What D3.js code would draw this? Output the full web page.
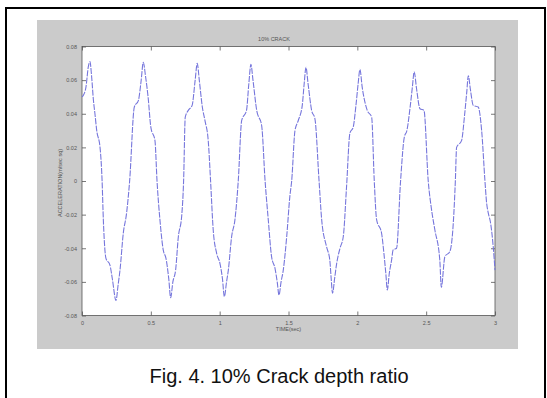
<!DOCTYPE html>
<html>
<head>
<meta charset="utf-8">
<script src="https://cdn.jsdelivr.net/npm/d3@7"></script>
<style>
  body { margin: 0; background: #fff; }
  svg { display: block; }
</style>
</head>
<body>
<svg id="fig" width="547" height="398"></svg>
<script>
// sampled acceleration trace, time in seconds
const timeSec = [
  0.000, 0.010, 0.029, 0.046, 0.058, 0.070, 0.083, 0.094, 0.107, 0.131,
  0.146, 0.155, 0.174, 0.203, 0.220, 0.247, 0.262, 0.276, 0.300, 0.324,
  0.346, 0.380, 0.410, 0.430, 0.445, 0.462, 0.480, 0.500, 0.530, 0.545,
  0.566, 0.590, 0.610, 0.630, 0.644, 0.660, 0.680, 0.700, 0.724, 0.738,
  0.750, 0.772, 0.800, 0.822, 0.837, 0.852, 0.874, 0.893, 0.917, 0.934,
  0.953, 0.978, 1.002, 1.020, 1.034, 1.050, 1.063, 1.087, 1.111, 1.135,
  1.160, 1.195, 1.212, 1.227, 1.242, 1.269, 1.305, 1.330, 1.353, 1.377,
  1.402, 1.418, 1.431, 1.446, 1.462, 1.487, 1.510, 1.523, 1.547, 1.571,
  1.600, 1.614, 1.627, 1.642, 1.668, 1.692, 1.722, 1.741, 1.776, 1.800,
  1.810, 1.820, 1.835, 1.850, 1.874, 1.898, 1.922, 1.946, 1.970, 1.990,
  2.006, 2.019, 2.035, 2.072, 2.104, 2.123, 2.140, 2.176, 2.193, 2.207,
  2.218, 2.232, 2.249, 2.260, 2.285, 2.314, 2.341, 2.360, 2.385, 2.400,
  2.413, 2.430, 2.455, 2.484, 2.515, 2.539, 2.563, 2.599, 2.610, 2.636,
  2.672, 2.697, 2.712, 2.721, 2.757, 2.780, 2.795, 2.806, 2.822, 2.842,
  2.878, 2.903, 2.927, 2.939, 2.951, 2.968, 2.987, 3.000
];
const accel = [
  0.050, 0.051, 0.056, 0.068, 0.071, 0.062, 0.048, 0.040, 0.030, 0.020,
  0.000, -0.023, -0.046, -0.050, -0.058, -0.071, -0.062, -0.053, -0.031, -0.019,
  0.000, 0.044, 0.048, 0.060, 0.0706, 0.062, 0.050, 0.032, 0.024, 0.000,
  -0.023, -0.041, -0.046, -0.058, -0.0694, -0.060, -0.053, -0.033, -0.021, 0.000,
  0.038, 0.042, 0.045, 0.060, 0.070, 0.060, 0.044, 0.036, 0.024, 0.000,
  -0.029, -0.043, -0.049, -0.058, -0.0688, -0.060, -0.053, -0.033, -0.023, 0.000,
  0.036, 0.042, 0.058, 0.0694, 0.060, 0.042, 0.033, 0.000, -0.023, -0.045,
  -0.052, -0.060, -0.0678, -0.060, -0.053, -0.033, -0.009, 0.000, 0.030, 0.036,
  0.045, 0.058, 0.0676, 0.058, 0.042, 0.037, 0.000, -0.023, -0.039, -0.047,
  -0.058, -0.0668, -0.058, -0.049, -0.040, -0.033, -0.003, 0.0285, 0.032, 0.045,
  0.058, 0.0664, 0.056, 0.042, 0.038, 0.000, -0.023, -0.031, -0.043, -0.055,
  -0.0648, -0.055, -0.047, -0.041, -0.040, 0.000, 0.026, 0.030, 0.045, 0.056,
  0.065, 0.055, 0.043, 0.042, 0.000, -0.017, -0.029, -0.047, -0.0632, -0.045,
  -0.042, -0.025, 0.000, 0.020, 0.024, 0.040, 0.053, 0.0626, 0.054, 0.045,
  0.044, 0.030, 0.000, -0.013, -0.019, -0.025, -0.039, -0.053
];

const xTicks = [0, 0.5, 1, 1.5, 2, 2.5, 3];
const yTicks = [-0.08, -0.06, -0.04, -0.02, 0, 0.02, 0.04, 0.06, 0.08];

const titleText = "10% CRACK";
const xLabel = "TIME(sec)";
const yLabel = "ACCELERATION(m/sec sq)";
const caption = "Fig. 4. 10% Crack depth ratio";

const svg = d3.select("#fig");

// outer frame
svg.append("rect")
  .attr("x", 6).attr("y", 8)
  .attr("width", 539).attr("height", 400)
  .attr("fill", "none")
  .attr("stroke", "#000")
  .attr("stroke-width", 2);

// grey figure window
svg.append("rect")
  .attr("x", 37).attr("y", 20)
  .attr("width", 481).attr("height", 329)
  .attr("fill", "#cbcbcb");

const plot = { left: 82, right: 495, top: 46.5, bottom: 315.5 };

const x = d3.scaleLinear().domain([0, 3]).range([plot.left, plot.right]);
const y = d3.scaleLinear().domain([-0.08, 0.08]).range([plot.bottom, plot.top]);

svg.append("rect")
  .attr("x", plot.left).attr("y", plot.top)
  .attr("width", plot.right - plot.left)
  .attr("height", plot.bottom - plot.top)
  .attr("fill", "#fff");

const fmt = d => d === 0 ? "0" : String(d);

// axes with inward ticks, labels only on bottom/left
const axisStyle = g => {
  g.selectAll(".domain").remove();
  g.selectAll("line").attr("stroke", "#555").attr("stroke-width", 0.8);
  g.selectAll("text")
    .attr("font-family", "Liberation Sans, Arial, sans-serif")
    .attr("font-size", 5.5)
    .attr("fill", "#555");
};

svg.append("g")
  .attr("transform", `translate(0,${plot.bottom})`)
  .call(d3.axisBottom(x).tickValues(xTicks).tickFormat(fmt).tickSizeInner(-4).tickSizeOuter(0).tickPadding(6))
  .call(axisStyle);

svg.append("g")
  .attr("transform", `translate(0,${plot.top})`)
  .call(d3.axisTop(x).tickValues(xTicks).tickFormat("").tickSizeInner(-4).tickSizeOuter(0))
  .call(axisStyle);

svg.append("g")
  .attr("transform", `translate(${plot.left},0)`)
  .call(d3.axisLeft(y).tickValues(yTicks).tickFormat(fmt).tickSizeInner(-4).tickSizeOuter(0).tickPadding(5))
  .call(axisStyle);

svg.append("g")
  .attr("transform", `translate(${plot.right},0)`)
  .call(d3.axisRight(y).tickValues(yTicks).tickFormat("").tickSizeInner(-4).tickSizeOuter(0))
  .call(axisStyle);

// plot box
svg.append("rect")
  .attr("x", plot.left).attr("y", plot.top)
  .attr("width", plot.right - plot.left)
  .attr("height", plot.bottom - plot.top)
  .attr("fill", "none")
  .attr("stroke", "#555")
  .attr("stroke-width", 0.8);

// the trace
const series = timeSec.map((t, i) => ({ t: t, a: accel[i] }));

const line = d3.line()
  .x(d => x(d.t))
  .y(d => y(d.a))
  .curve(d3.curveMonotoneX);

svg.append("path")
  .datum(series)
  .attr("d", line)
  .attr("fill", "none")
  .attr("stroke", "#7676dc")
  .attr("stroke-width", 1.1)
  .attr("stroke-dasharray", "6,1.2");

const smallText = (sel) => sel
  .attr("font-family", "Liberation Sans, Arial, sans-serif")
  .attr("font-size", 5.5)
  .attr("fill", "#555")
  .attr("text-anchor", "middle");

svg.append("text")
  .attr("x", 274).attr("y", 41)
  .call(smallText)
  .text(titleText);

svg.append("text")
  .attr("x", (plot.left + plot.right) / 2).attr("y", 331)
  .call(smallText)
  .text(xLabel);

svg.append("text")
  .attr("transform", `translate(62,183) rotate(-90)`)
  .call(smallText)
  .text(yLabel);

svg.append("text")
  .attr("x", 279).attr("y", 383)
  .attr("font-family", "Liberation Sans, Arial, sans-serif")
  .attr("font-size", 20)
  .attr("fill", "#111")
  .attr("text-anchor", "middle")
  .text(caption);
</script>
</body>
</html>
